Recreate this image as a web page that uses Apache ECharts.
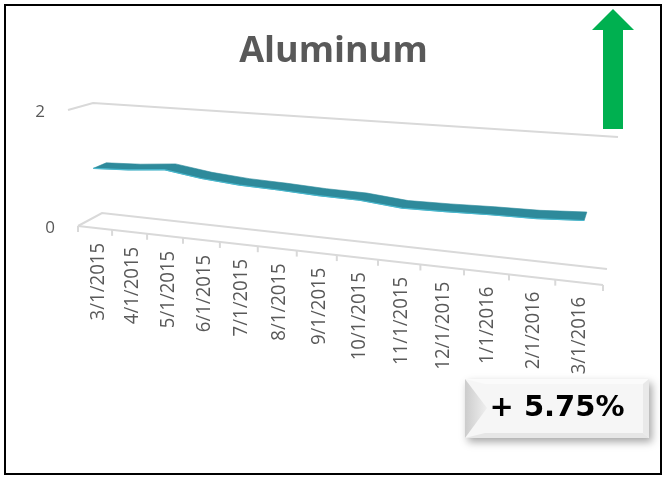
<!DOCTYPE html>
<html lang="en">
<head>
<meta charset="UTF-8">
<script src="https://cdn.jsdelivr.net/npm/echarts@6/dist/echarts.min.js"></script>
<title>Aluminum</title>
<style>html,body{margin:0;padding:0;background:#fff;}</style>
</head>
<body>
<div id="chart" style="width:667px;height:479px;"></div>
<script>
// data
var dates = ['3/1/2015', '4/1/2015', '5/1/2015', '6/1/2015', '7/1/2015', '8/1/2015', '9/1/2015',
             '10/1/2015', '11/1/2015', '12/1/2015', '1/1/2016', '2/1/2016', '3/1/2016'];
var prices = [1.0, 1.03, 1.09, 1.0, 0.95, 0.93, 0.9, 0.89, 0.83, 0.84, 0.86, 0.87, 0.91];
var yTicks = [0, 2];

// 3d box corners on screen (back/front, bottom/top, left/right)
var box = {
    bbl: [102, 213], bbr: [607, 269], btl: [93, 103], btr: [618, 137],
    fbl: [78, 226], fbr: [603, 285], ftl: [68, 110], ftr: [614, 153]
};
var persp = 1.2; // right side is nearer, so categories spread out
var grey = '#595959', gridGrey = '#D9D9D9';

function lerp(a, b, t) {
    return [a[0] + (b[0] - a[0]) * t, a[1] + (b[1] - a[1]) * t];
}
function project(u, v, d) {
    var f = u / (u + persp * (1 - u));
    var back = lerp(lerp(box.bbl, box.bbr, f), lerp(box.btl, box.btr, f), v);
    var front = lerp(lerp(box.fbl, box.fbr, f), lerp(box.ftl, box.ftr, f), v);
    return lerp(back, front, d);
}
// pixel in the hidden grid -> [u, v] in 0..1
function toUnit(params, pt) {
    var cs = params.coordSys;
    return [(pt[0] - cs.x) / cs.width, (cs.y + cs.height - pt[1]) / cs.height];
}

function gridItem(params, api) {
    var v = toUnit(params, api.coord([0, api.value(1)]))[1];
    var a = project(0, v, 1), b = project(0, v, 0), c = project(1, v, 0);
    return {
        type: 'group',
        children: [
            {type: 'polyline', shape: {points: [a, b, c]}, style: {stroke: gridGrey, lineWidth: 2, fill: null}},
            {type: 'text', x: a[0] - 28, y: a[1] + 2,
             style: {text: String(api.value(1)), font: '17px "Open Sans"', fill: grey, align: 'center', verticalAlign: 'middle'}}
        ]
    };
}

function axisItem(params, api) {
    var cs = params.coordSys;
    var i = api.value(0);
    var c = api.coord([i, 0]);
    var half = api.size([1, 0])[0] / 2;
    var uC = toUnit(params, c)[0];
    var kids = [];
    function tick(px) {
        var p = project((px - cs.x) / cs.width, 0, 1);
        kids.push({type: 'line', shape: {x1: p[0], y1: p[1], x2: p[0], y2: p[1] + 6},
                   style: {stroke: gridGrey, lineWidth: 2}});
    }
    tick(c[0] - half);
    if (i === dates.length - 1) tick(c[0] + half);
    if (i === 0) {
        var s = project(0, 0, 1), e = project(1, 0, 1);
        kids.push({type: 'line', shape: {x1: s[0], y1: s[1], x2: e[0], y2: e[1]},
                   style: {stroke: gridGrey, lineWidth: 2}});
    }
    var p = project(uC, 0, 0.85);
    kids.push({type: 'text', x: p[0], y: p[1] + 17, rotation: Math.PI / 2, scaleX: 0.93,
               style: {text: dates[i], font: '20px "Open Sans"', fill: grey, align: 'right', verticalAlign: 'middle'}});
    return {type: 'group', children: kids};
}

function ribbonItem(params, api) {
    if (params.dataIndex !== 0) return null;
    var uv = prices.map(function (p, i) { return toUnit(params, api.coord([i, p])); });
    var backEdge = uv.map(function (q) { return project(q[0], q[1], 0.33); });
    var frontEdge = uv.map(function (q) { return project(q[0], q[1], 0.87); });
    return {
        type: 'group',
        children: [
            {type: 'polygon', shape: {points: backEdge.concat(frontEdge.slice().reverse())},
             style: {fill: '#2E8A9B', stroke: '#2E8A9B', lineWidth: 0.6}},
            {type: 'polyline', shape: {points: frontEdge}, style: {stroke: '#48B8CE', lineWidth: 1.2, fill: null}}
        ]
    };
}

var chart = echarts.init(document.getElementById('chart'));
chart.setOption({
    animation: false,
    backgroundColor: '#fff',
    title: {
        text: 'Aluminum', left: 'center', top: 29,
        textStyle: {fontFamily: 'Open Sans', fontWeight: 'bold', fontSize: 36, color: grey}
    },
    grid: {left: 0, right: 0, top: 0, bottom: 0, show: false},
    xAxis: {type: 'category', data: dates, show: false},
    yAxis: {type: 'value', min: 0, max: 2, interval: 2, show: false},
    series: [
        {type: 'custom', silent: true, renderItem: gridItem, data: yTicks.map(function (t) { return [0, t]; })},
        {type: 'custom', silent: true, renderItem: axisItem, data: dates.map(function (d, i) { return [i, 0]; })},
        {type: 'custom', silent: true, renderItem: ribbonItem, data: prices.map(function (p, i) { return [i, p]; })}
    ],
    graphic: [
        {type: 'rect', shape: {x: 5, y: 5, width: 656, height: 469}, style: {fill: null, stroke: '#000', lineWidth: 2}},
        {type: 'polygon', shape: {points: [[613, 9], [634, 30], [623, 30], [623, 129], [603, 129], [603, 30], [592, 30]]},
         style: {fill: '#00B050'}},
        {type: 'rect', shape: {x: 465, y: 379, width: 184, height: 59},
         style: {fill: '#F6F6F6', shadowBlur: 8, shadowOffsetX: 3, shadowOffsetY: 4, shadowColor: 'rgba(0,0,0,0.35)'}},
        {type: 'polygon', shape: {points: [[465, 379], [649, 379], [643, 384], [485, 384]]}, style: {fill: '#FBFBFB'}},
        {type: 'polygon', shape: {points: [[465, 438], [649, 438], [643, 433], [485, 433]]}, style: {fill: '#E6E6E6'}},
        {type: 'polygon', shape: {points: [[649, 379], [649, 438], [643, 433], [643, 384]]}, style: {fill: '#E9E9E9'}},
        {type: 'polygon', shape: {points: [[465, 379], [487, 408], [465, 438]]},
         style: {fill: new echarts.graphic.LinearGradient(0, 0, 1, 0, [{offset: 0, color: '#CCCCCC'}, {offset: 1, color: '#EFEFEF'}])}},
        {type: 'text', x: 557, y: 408,
         style: {text: '+ 5.75%', font: 'bold 29px "DejaVu Sans"', fill: '#000', align: 'center', verticalAlign: 'middle'}}
    ]
});
</script>
</body>
</html>
